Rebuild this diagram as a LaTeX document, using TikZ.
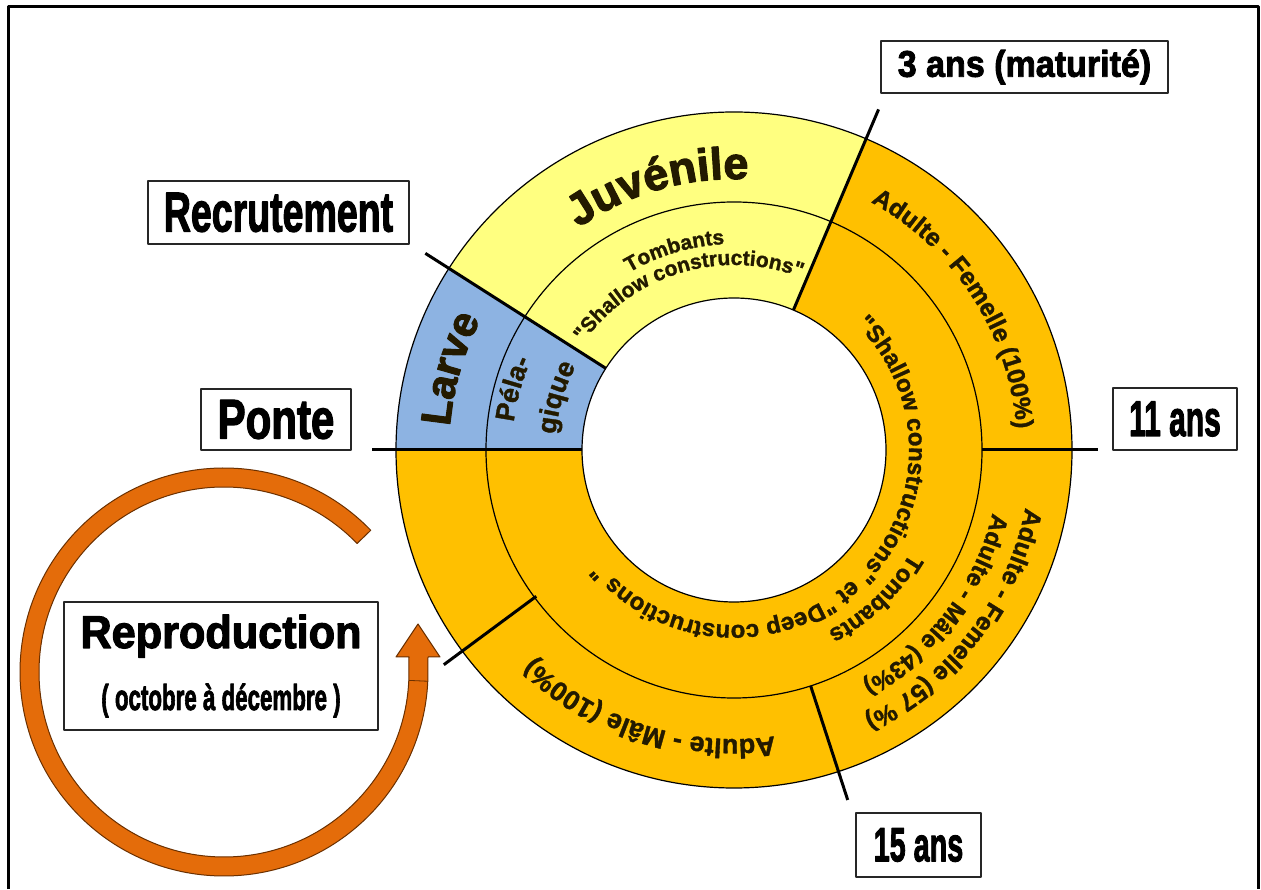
\documentclass[tikz,border=0pt]{standalone}
\usepackage{fontspec}
\usepackage{graphicx}
\usetikzlibrary{decorations.text}
\newfontfamily\lsans{Liberation Sans Bold}[FakeBold=1.3]
\newfontfamily\lheavy{Liberation Sans Bold}[FakeBold=2.5]
\definecolor{ly}{HTML}{FFFF80}
\definecolor{og}{HTML}{FFC000}
\definecolor{bl}{HTML}{8DB3E2}
\definecolor{ar}{HTML}{E46C0A}
\definecolor{arline}{HTML}{6B3000}
\definecolor{tx}{HTML}{231A00}
\newcommand\ringsector[5]{\fill[#1] (#2:#4) -- (#2:#5) arc[start angle=#2, end angle=#3, radius=#5] -- (#3:#4) arc[start angle=#3, end angle=#2, radius=#4] -- cycle;}
\newcommand\arctext[5][90]{\path[decorate, decoration={text along path, text align=center, text={|#4|#5}}] (#2+#1:#3) arc[start angle=#2+#1, end angle=#2-#1, radius=#3];}
\newcommand\fs[1]{\fontsize{#1}{#1}\selectfont}
\begin{document}
\begin{tikzpicture}[x=1pt,y=1pt, line join=round,
  labelbox/.style={draw=black!85, line width=1.4pt, fill=white, inner sep=0pt},
  ringline/.style={line width=1.2pt},
  spoke/.style={line width=3pt}]
\useasboundingbox (0,0) rectangle (1261,889);
\fill[white] (0,0) rectangle (1261,889);
% frame
\draw[line width=3pt] (8,0) -- (8,882) -- (1258,882) -- (1258,0);

% ring
\begin{scope}[shift={(734,439)}]
\ringsector{bl}{147.5}{180}{248}{338}
\ringsector{ly}{67}{147.5}{248}{338}
\ringsector{og}{-180}{67}{248}{338}
\ringsector{bl}{147.5}{180}{152}{248}
\ringsector{ly}{67}{147.5}{152}{248}
\ringsector{og}{-180}{67}{152}{248}
\draw[ringline] (0,0) circle[radius=338];
\draw[ringline] (0,0) circle[radius=248];
\draw[ringline] (0,0) circle[radius=152];
\draw[spoke] (180:152) -- (180:362);
\draw[spoke] (147.5:152) -- (147.5:366);
\draw[spoke] (67:152) -- (67:370);
\draw[spoke] (0:248) -- (0:364);
\draw[spoke] (-72:248) -- (-72:368);
\draw[spoke] (-143.5:246) -- (-143.5:361);
% ring texts
\arctext{106}{271}{\color{tx}\lheavy\fs{45}}{Juvénile}
\arctext{106.6}{206}{\color{tx}\lsans\fs{21}}{Tombants}
\arctext{106.6}{185}{\color{tx}\lsans\fs{21}}{"Shallow constructions"}
\arctext{164}{285}{\color{tx}\lheavy\fs{42}}{Larve}
\arctext{164.5}{222}{\color{tx}\lsans\fs{27}}{Péla-}
\arctext{163.5}{179}{\color{tx}\lsans\fs{27}}{gique}
\arctext{32.7}{283}{\color{tx}\lsans\fs{25}}{Adulte - Femelle (100{\%})}
\arctext{-37.6}{297}{\color{tx}\lsans\fs{25}}{Adulte - Femelle (57 {\%})}
\arctext{-37.4}{266}{\color{tx}\lsans\fs{24}}{Adulte - Mâle (43{\%})}
\arctext{-108}{289}{\color{tx}\lsans\fs{27}}{Adulte - Mâle (100{\%})}
\arctext{-46.5}{204}{\color{tx}\lsans\fs{24}}{Tombants}
\arctext[125]{-47}{175}{\color{tx}\lsans\fs{24}}{"Shallow constructions" et "Deep constructions "}
\end{scope}

% reproduction arrow
\begin{scope}[shift={(224,217)}]
\filldraw[fill=ar, draw=arline, line width=1pt] (44:204) arc[start angle=44, end angle=357.4, radius=204] -- (204,15) -- (216,15) -- (194,48) -- (172,15) -- (185,15) -- (357.4:185) arc[start angle=357.4, end angle=44, radius=185] -- cycle;
\draw[arline, line width=0.8pt] (357.4:185) -- (357.4:204);
\end{scope}

% label boxes
\node[labelbox, minimum width=287pt, minimum height=52pt] (mat) at (1024.5,822) {\lheavy\fs{37}\scalebox{0.92}[1]{3 ans (maturité)}};
\node[labelbox, minimum width=261pt, minimum height=63pt] (rec) at (278.5,676.5) {\lheavy\fs{56}\scalebox{0.67}[1]{Recrutement}};
\node[labelbox, minimum width=150pt, minimum height=61pt] (pon) at (276,469.5) {\lheavy\fs{56}\scalebox{0.75}[1]{Ponte}};
\node[labelbox, minimum width=124pt, minimum height=62pt] (a11) at (1175,470) {\lheavy\fs{50}\scalebox{0.6}[1]{11 ans}};
\node[labelbox, minimum width=125pt, minimum height=64pt] (a15) at (918.5,44) {\lheavy\fs{48}\scalebox{0.6}[1]{15 ans}};
\node[labelbox, minimum width=314pt, minimum height=128pt] (rep) at (221,223) {};
\node[anchor=base, inner sep=0pt] (reptitle) at (221,241) {\lheavy\fs{46}\scalebox{0.94}[1]{Reproduction}};
\node[anchor=base, inner sep=0pt] (repsub) at (221,179) {\lheavy\fs{36}\scalebox{0.62}[1]{( octobre à décembre )}};
\end{tikzpicture}
\end{document}
